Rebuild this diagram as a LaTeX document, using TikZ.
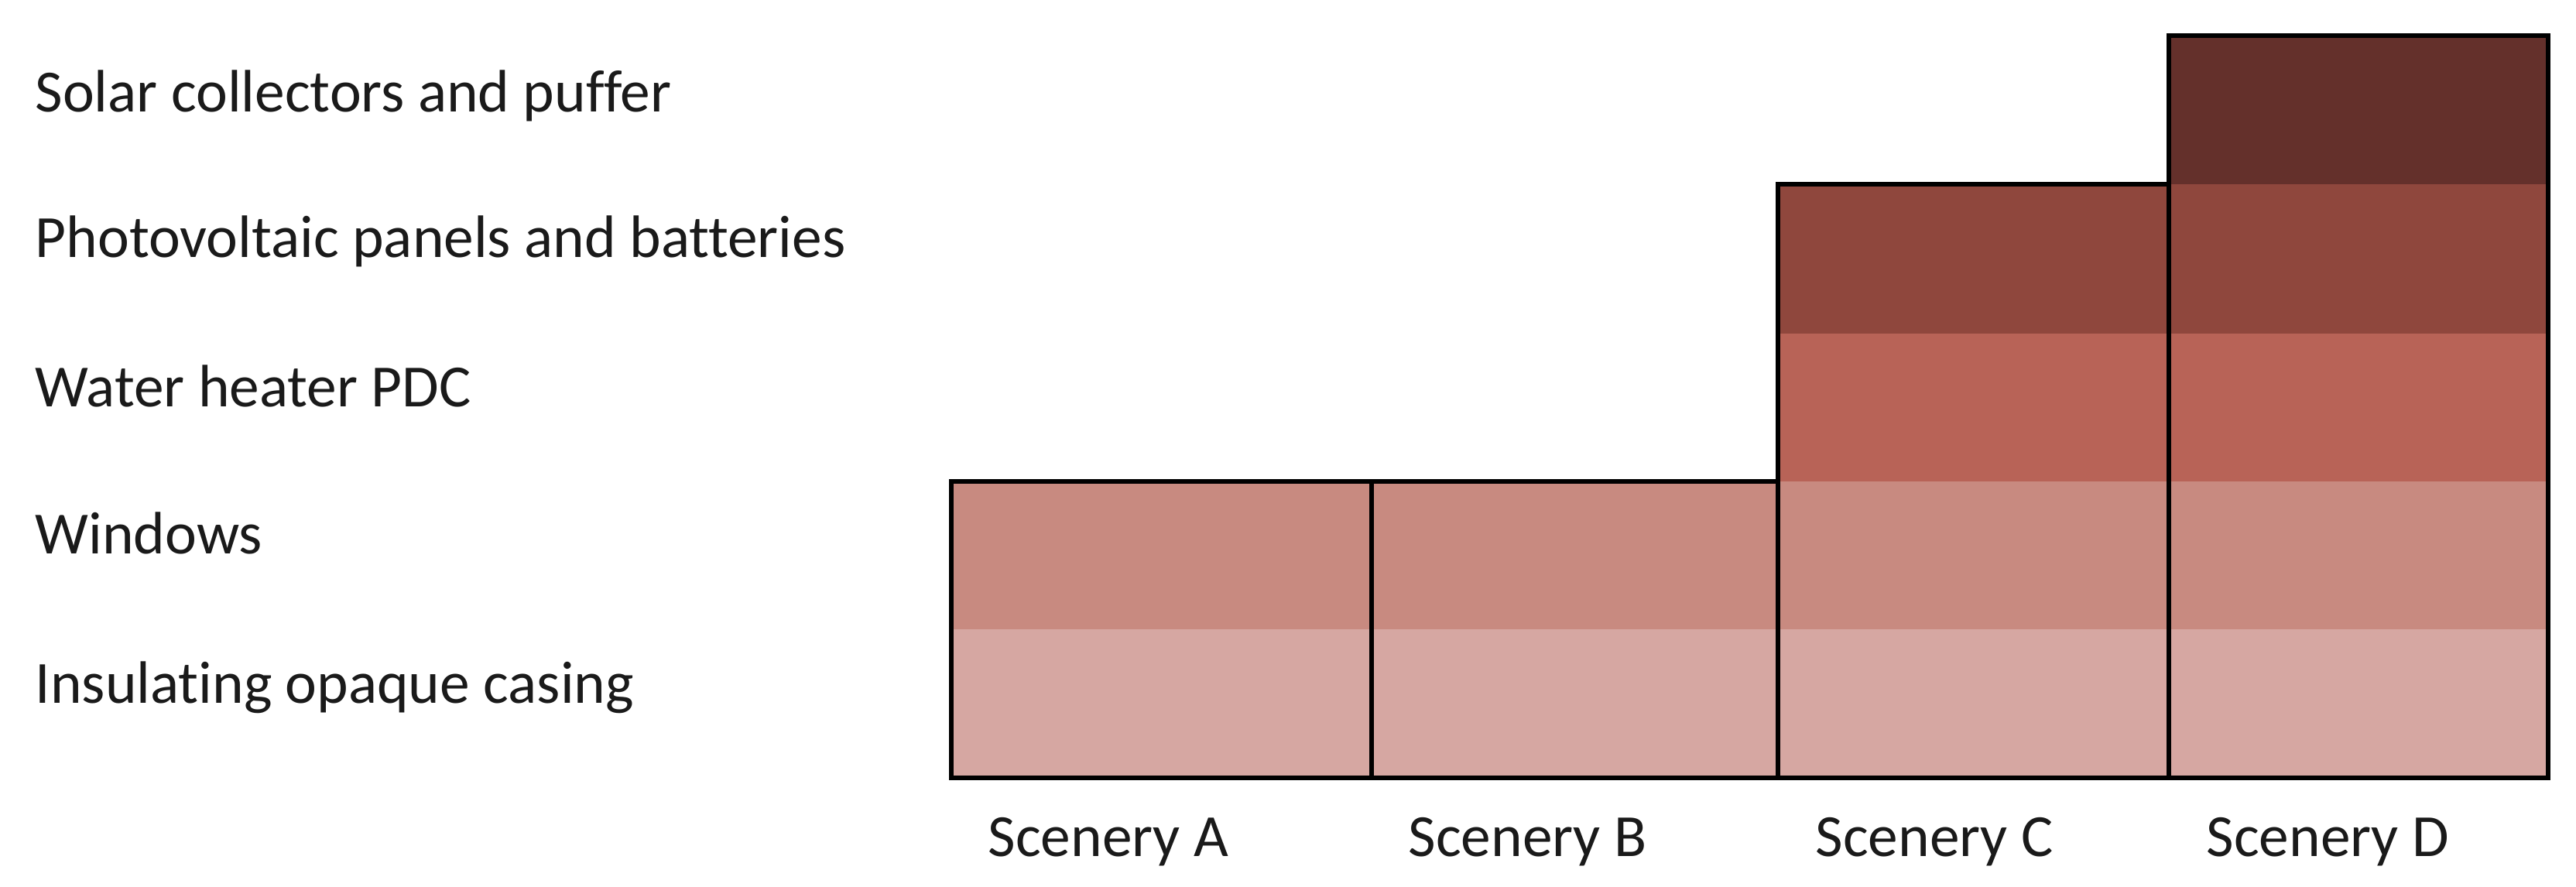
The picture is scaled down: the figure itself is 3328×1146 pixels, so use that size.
\documentclass[tikz,border=0pt]{standalone}
\usepackage{fontspec}
\setmainfont[Ligatures={NoCommon}]{Carlito}
\definecolor{cinsul}{HTML}{D6A7A2}
\definecolor{cwin}{HTML}{C88A80}
\definecolor{cwater}{HTML}{B86357}
\definecolor{cpv}{HTML}{8F473D}
\definecolor{csolar}{HTML}{64302B}
\definecolor{txt}{HTML}{1A1A1A}
\begin{document}
\begin{tikzpicture}[x=0.01cm,y=-0.01cm,
  rowlabel/.style={anchor=base west,inner sep=0pt,font=\fontsize{22}{26}\selectfont,text=txt},
  collabel/.style={anchor=base west,inner sep=0pt,font=\fontsize{22}{26}\selectfont,text=txt},
  colbox/.style={draw=black,line width=1.7pt,line join=miter}]
\useasboundingbox (0,0) rectangle (3328,1146);
% row boundaries: 46 238 431 622 813 1005
% column boundaries: 1229 1772 2297 2802 3292
% Scenery A
\fill[cinsul] (1229,813) rectangle (1772,1005);
\fill[cwin] (1229,622) rectangle (1772,813);
% Scenery B
\fill[cinsul] (1772,813) rectangle (2297,1005);
\fill[cwin] (1772,622) rectangle (2297,813);
% Scenery C
\fill[cinsul] (2297,813) rectangle (2802,1005);
\fill[cwin] (2297,622) rectangle (2802,813);
\fill[cwater] (2297,431) rectangle (2802,622);
\fill[cpv] (2297,238) rectangle (2802,431);
% Scenery D
\fill[cinsul] (2802,813) rectangle (3292,1005);
\fill[cwin] (2802,622) rectangle (3292,813);
\fill[cwater] (2802,431) rectangle (3292,622);
\fill[cpv] (2802,238) rectangle (3292,431);
\fill[csolar] (2802,46) rectangle (3292,238);
% outlines
\draw[colbox] (1229,622) rectangle (1772,1005);
\draw[colbox] (1772,622) rectangle (2297,1005);
\draw[colbox] (2297,238) rectangle (2802,1005);
\draw[colbox] (2802,46) rectangle (3292,1005);
% row labels
\node[rowlabel] (lsolar) at (45,145) {Solar collectors and puffer};
\node[rowlabel] (lpv) at (45,333) {Photovoltaic panels and batteries};
\node[rowlabel] (lwater) at (45,525) {Water heater PDC};
\node[rowlabel] (lwin) at (45,715) {Windows};
\node[rowlabel] (linsul) at (45,908) {Insulating opaque casing};
% column labels
\node[collabel] (sa) at (1276,1106) {Scenery A};
\node[collabel] (sb) at (1819,1106) {Scenery B};
\node[collabel] (sc) at (2345,1106) {Scenery C};
\node[collabel] (sd) at (2850,1106) {Scenery D};
\end{tikzpicture}
\end{document}
